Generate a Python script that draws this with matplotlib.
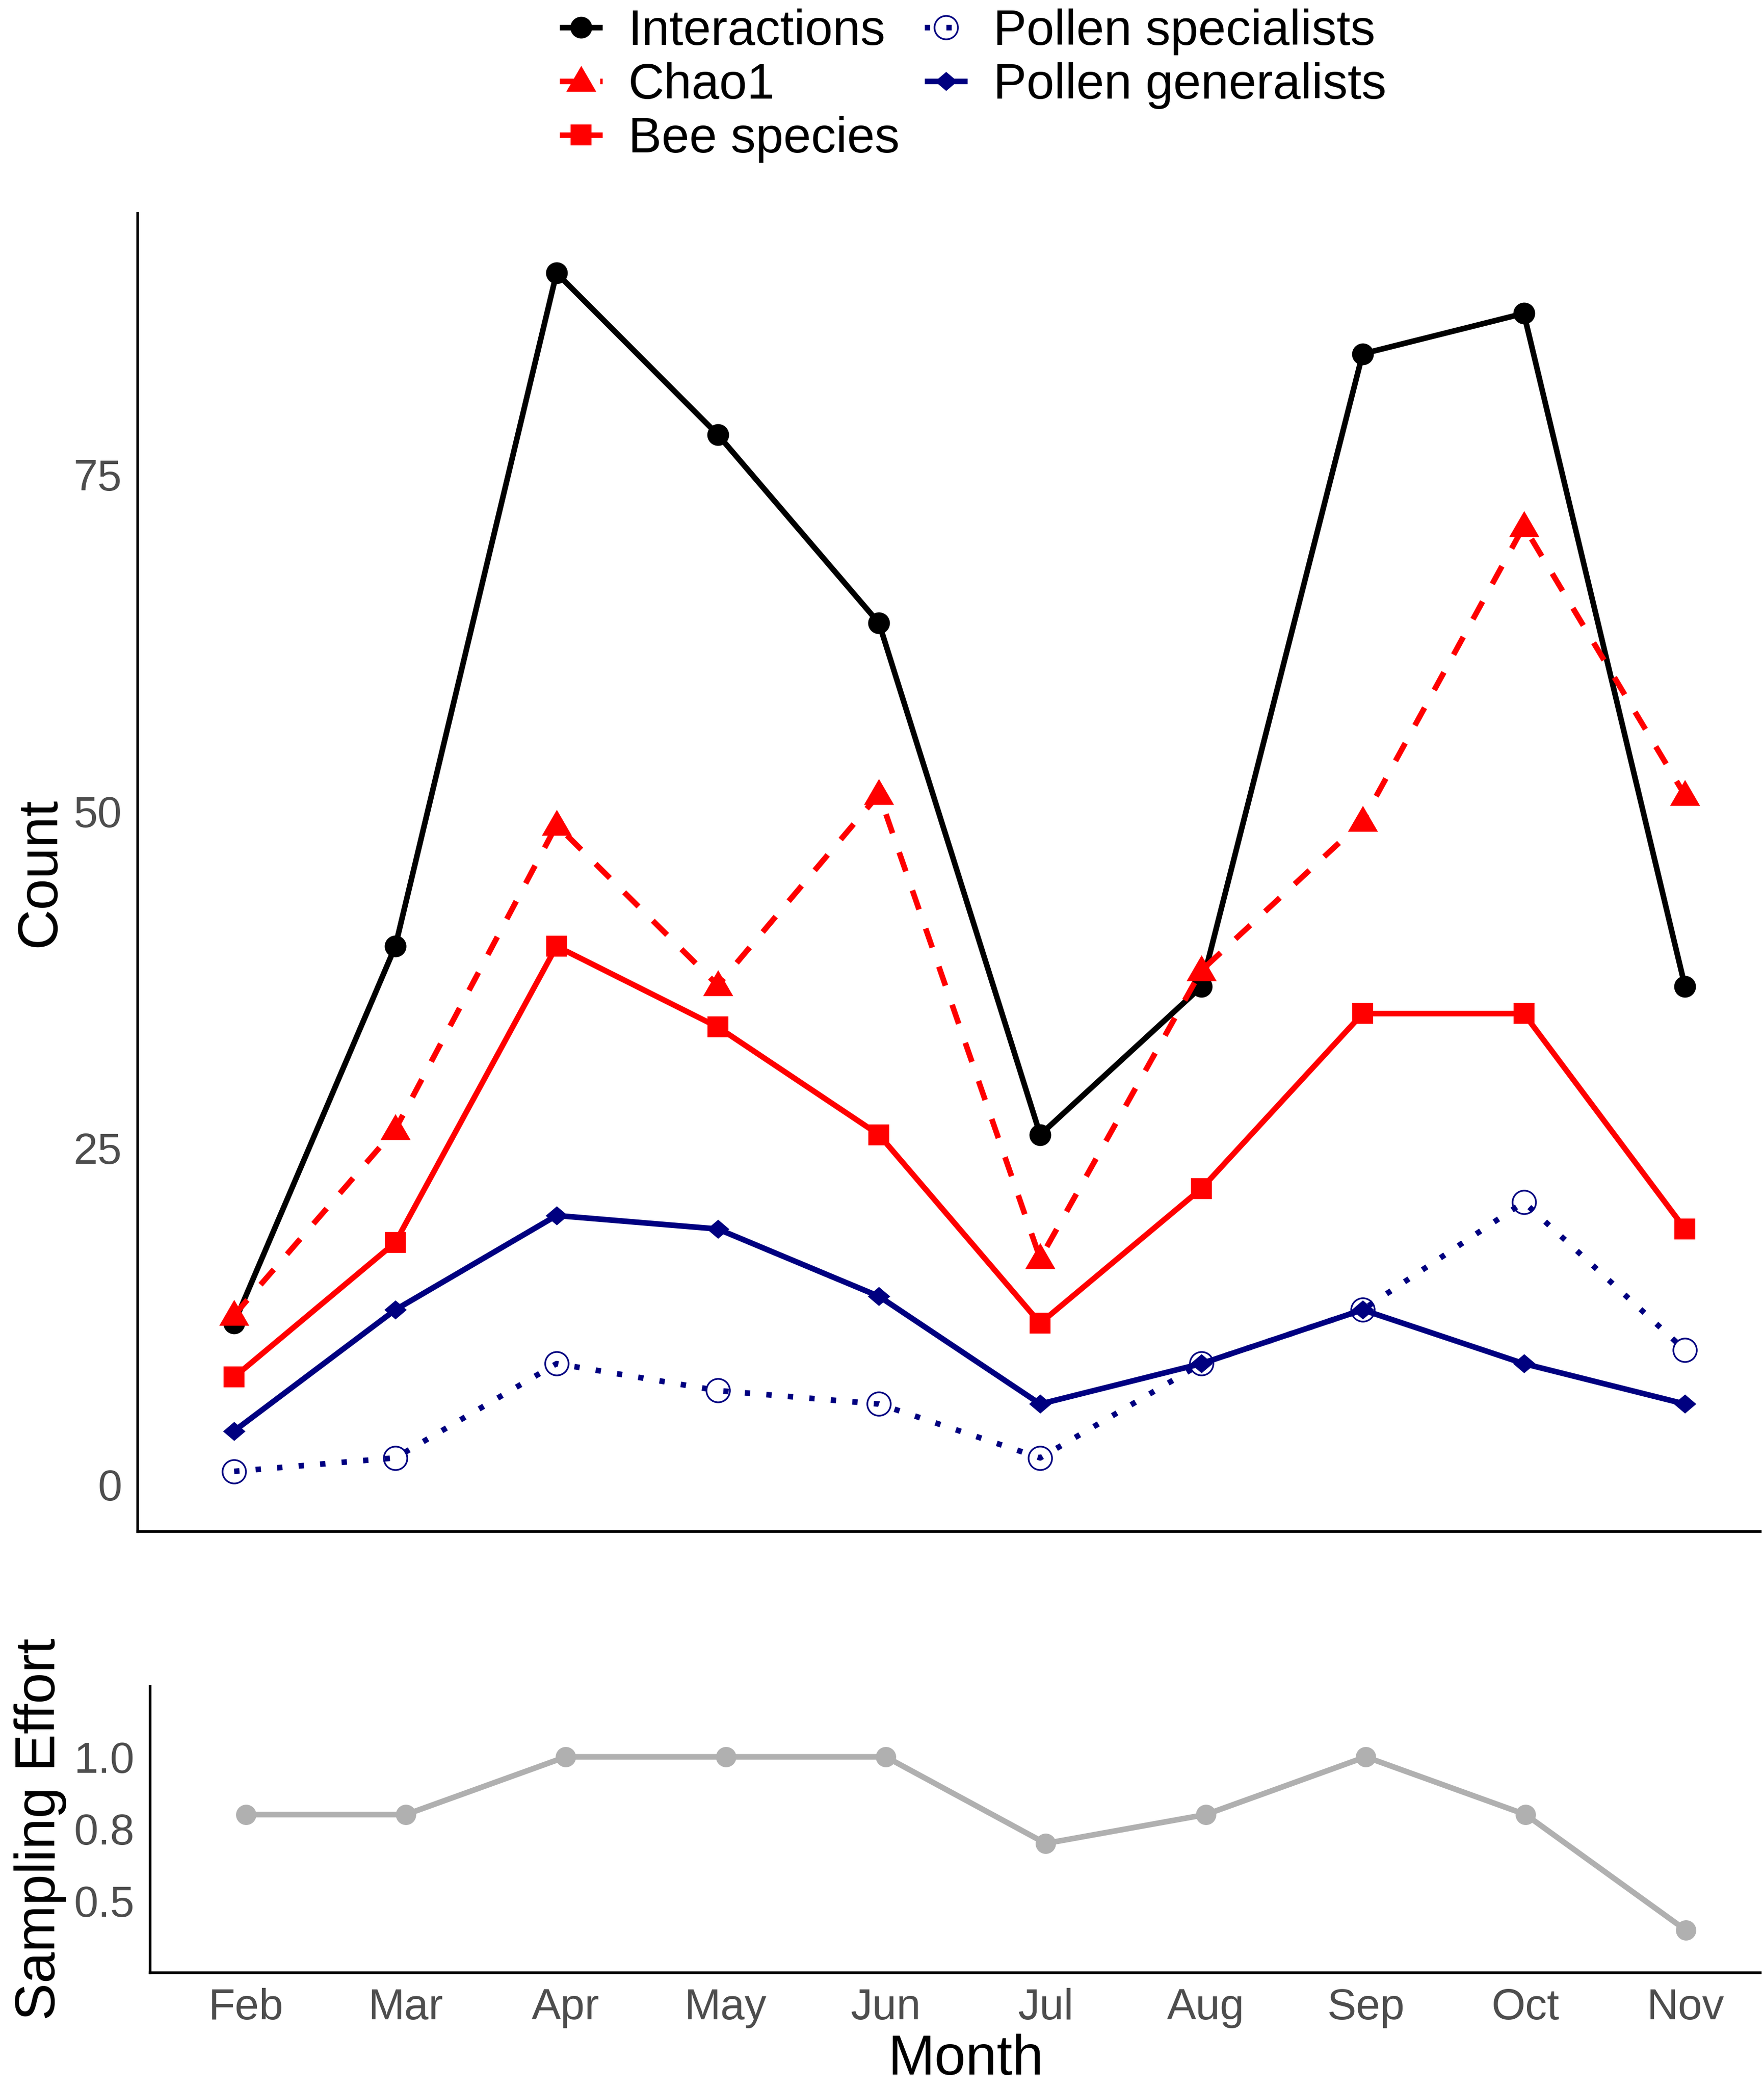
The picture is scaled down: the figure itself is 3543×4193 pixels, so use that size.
import matplotlib
matplotlib.use('Agg')
import matplotlib.pyplot as plt
import numpy as np

# ---- data ----
months = ['Feb', 'Mar', 'Apr', 'May', 'Jun', 'Jul', 'Aug', 'Sep', 'Oct', 'Nov']
interactions = [12, 40, 90, 78, 64, 26, 37, 84, 87, 37]
chao1 = [12.6, 26.4, 49.0, 37.1, 51.3, 16.8, 38.2, 49.3, 71.2, 51.2]
bee_species = [8, 18, 40, 34, 26, 12, 22, 35, 35, 19]
pollen_specialists = [1, 2, 9, 7, 6, 2, 9, 13, 21, 10]
pollen_generalists = [4, 13, 20, 19, 14, 6, 9, 13, 9, 6]
sampling_effort = [0.8, 0.8, 1.0, 1.0, 1.0, 0.7, 0.8, 1.0, 0.8, 0.4]
count_ticks = [0, 25, 50, 75]
effort_ticks = [0.5, 0.75, 1.0]
effort_labels = ['0.5', '0.8', '1.0']

plt.rcParams['font.family'] = ['Liberation Sans', 'DejaVu Sans']

W, H = 3543, 4193
fig = plt.figure(figsize=(W / 300, H / 300), dpi=300)

def fx(px):
    return px / W

def fy(py):
    return 1 - py / H

RED = '#FF0000'
NAVY = '#000080'
GRAY = '#B0B0B0'
TICKC = '#4D4D4D'
LW = 2.7

tri = [(0, 0.6), (-0.58, -0.4), (0.58, -0.4)]
diam = [(0, 0.85), (1, 0), (0, -0.85), (-1, 0)]

# ---- top panel ----
L1, R1, T1, B1 = 276, 3535, 428, 3075
ax = fig.add_axes([fx(L1), fy(B1), fx(R1 - L1), (B1 - T1) / H])
x = np.arange(len(months))

common = dict(lw=LW, solid_capstyle='butt', dash_capstyle='butt', solid_joinstyle='round')
h1, = ax.plot(x, interactions, color='black', marker='o', ms=10.5, mew=0, label='Interactions', **common)
h2, = ax.plot(x, chao1, color=RED, marker=tri, ms=15, mew=0, dashes=(3.6, 3.6), label='Chao1', **common)
h3, = ax.plot(x, bee_species, color=RED, marker='s', ms=10, mew=0, label='Bee species', **common)
h4, = ax.plot(x, pollen_specialists, color=NAVY, marker='o', ms=11.3, mfc='none', mec=NAVY, mew=0.8,
              dashes=(0.95, 2.9), label='Pollen specialists', **common)
h5, = ax.plot(x, pollen_generalists, color=NAVY, marker=diam, ms=10.8, mew=0, label='Pollen generalists', **common)

ax.set_xlim(-0.6, 9.465)
ax.set_ylim(-3.45, 94.45)
ax.set_yticks(count_ticks)
ax.set_xticks([])
for s in ['top', 'right']:
    ax.spines[s].set_visible(False)
for s in ['left', 'bottom']:
    ax.spines[s].set_linewidth(1.3)
    ax.spines[s].set_color('black')
ax.tick_params(axis='y', length=0, pad=7.5, labelsize=21, labelcolor=TICKC)

fig.text(fx(110), fy((T1 + B1) / 2), 'Count', rotation=90, rotation_mode='anchor',
         ha='center', va='baseline', fontsize=27)

# legend
leg = fig.legend(handles=[h1, h2, h3, h4, h5], ncol=2, loc='center',
                 bbox_to_anchor=(fx(1954), fy(172)), frameon=False, fontsize=24,
                 handlelength=0.86, handletextpad=0.52, columnspacing=0.5,
                 labelspacing=0.14, borderpad=0, borderaxespad=0)

# ---- bottom panel ----
L2, R2, T2, B2 = 301, 3535, 3386, 3961
ax2 = fig.add_axes([fx(L2), fy(B2), fx(R2 - L2), (B2 - T2) / H])
ax2.plot(x, sampling_effort, color=GRAY, marker='o', ms=9.8, mew=0, **common)
ax2.set_xlim(-0.6, 9.465)
ax2.set_ylim(0.253, 1.245)
ax2.set_yticks(effort_ticks)
ax2.set_yticklabels(effort_labels)
ax2.set_xticks(x)
ax2.set_xticklabels(months)
for s in ['top', 'right']:
    ax2.spines[s].set_visible(False)
for s in ['left', 'bottom']:
    ax2.spines[s].set_linewidth(1.3)
    ax2.spines[s].set_color('black')
ax2.tick_params(axis='both', length=0, pad=7.5, labelsize=21, labelcolor=TICKC)

fig.text(fx(110), fy((T2 + B2) / 2), 'Sampling Effort', rotation=90, rotation_mode='anchor',
         ha='center', va='baseline', fontsize=27)
fig.text(fx(1940), fy(4166), 'Month', ha='center', va='baseline', fontsize=27)

fig.savefig('out.png', dpi=300, facecolor='white')
